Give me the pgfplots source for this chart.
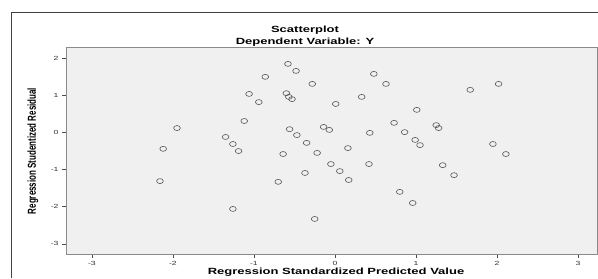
\documentclass[border=0pt]{standalone}
\usepackage{pgfplots}
\pgfplotsset{compat=1.18}
\usepackage{pgfplotstable}
\usepackage{fontspec}
\setmainfont{Liberation Sans}
\newfontfamily\widefont[FakeStretch=1.45]{Liberation Sans}
\definecolor{bggray}{HTML}{F0F0F0}
\definecolor{framegray}{HTML}{8A8A8A}
\definecolor{markgray}{HTML}{555555}

\pgfplotstableread{
x y
-0.58 1.85
-0.48 1.66
-0.86 1.50
-0.28 1.31
-1.06 1.04
-0.94 0.82
-0.60 1.06
-0.57 0.96
-0.53 0.90
0.01 0.77
-1.12 0.31
-1.95 0.12
-1.35 -0.12
-0.56 0.09
-0.47 -0.07
-0.14 0.15
-0.07 0.07
0.48 1.58
0.63 1.31
2.02 1.31
1.67 1.15
0.33 0.96
1.01 0.61
0.73 0.26
0.86 0.01
0.99 -0.20
1.05 -0.34
1.25 0.20
1.28 0.12
0.43 -0.01
-2.12 -0.44
-2.16 -1.31
-1.26 -0.31
-1.19 -0.50
-1.26 -2.06
-0.35 -0.28
-0.64 -0.58
-0.22 -0.55
-0.05 -0.85
0.06 -1.04
0.17 -1.28
0.16 -0.42
-0.70 -1.33
-0.37 -1.09
-0.25 -2.33
0.42 -0.85
1.33 -0.88
1.47 -1.15
1.95 -0.31
2.11 -0.58
0.80 -1.60
0.96 -1.90
}\resid

\begin{document}
\begin{tikzpicture}[x=1bp,y=1bp]
% outer chart frame (left and top edges visible)
\draw[black!75, line width=1.2bp] (11.5,0) -- (11.5,265.5) -- (598,265.5);
\node[font=\widefont\bfseries\fontsize{9}{10}\selectfont] at (305,247.5) {Scatterplot};
\node[font=\widefont\bfseries\fontsize{9}{10}\selectfont] at (305,235.5) {Dependent Variable: Y};
\begin{axis}[
  at={(66bp,24bp)}, anchor=south west,
  scale only axis, width=531bp, height=206bp,
  xmin=-3.32, xmax=3.235, ymin=-3.275, ymax=2.278,
  xtick={-3,-2,-1,0,1,2,3}, ytick={-3,-2,-1,0,1,2},
  xticklabels={-3,-2,-1,0,1,2,3}, yticklabels={-3,-2,-1,0,1,2},
  tick pos=left, tick align=outside, major tick length=4bp,
  tick style={black!70, line width=0.6bp},
  axis background/.style={fill=bggray},
  axis line style={draw=framegray, line width=1bp},
  ticklabel style={font=\widefont\fontsize{6}{6}\selectfont, text=black!80},
  clip=false,
]
\addplot[only marks, mark=o, mark size=2.5bp,
  mark options={xscale=1.35, draw=markgray, line width=0.6bp}] table[x=x,y=y] {\resid};
\end{axis}
\node[font=\widefont\bfseries\fontsize{9}{10}\selectfont] at (336,6) {Regression Standardized Predicted Value};
\node[rotate=90, font=\bfseries\fontsize{8}{9}\selectfont] at (33,127) {\scalebox{1}[1.45]{Regression Studentized Residual}};
\pgfresetboundingbox
\path[use as bounding box] (0,0) rectangle (598,278);
\end{tikzpicture}
\end{document}
